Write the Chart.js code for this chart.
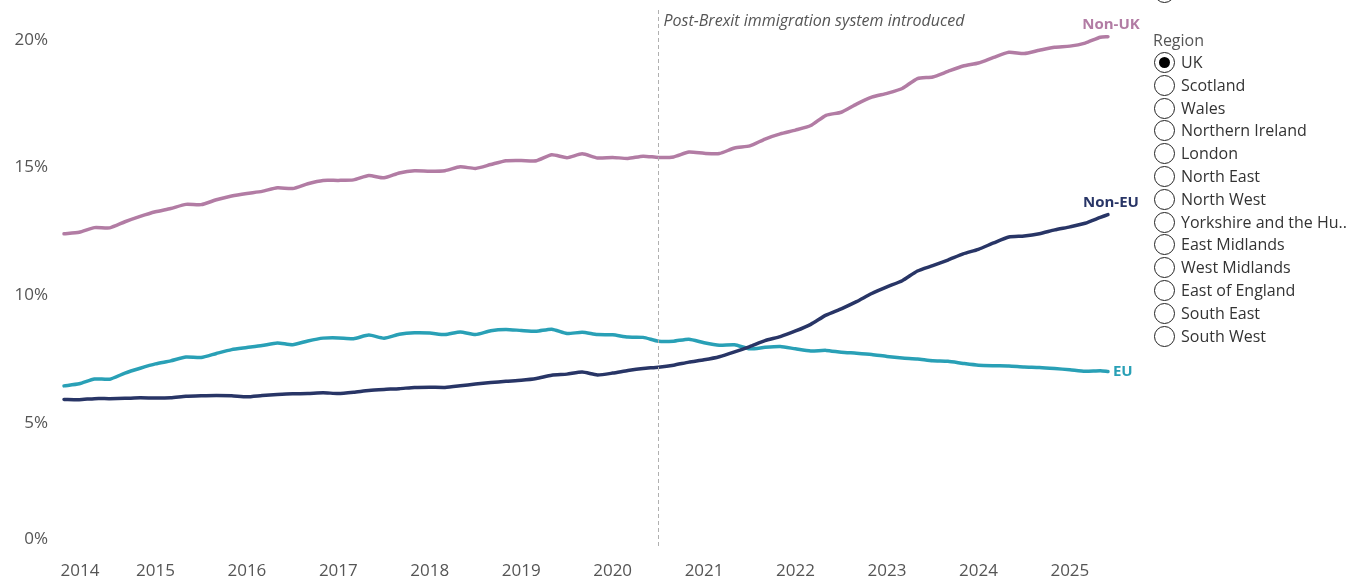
<!DOCTYPE html>
<html>
<head>
<meta charset="utf-8">
<script src="https://cdn.jsdelivr.net/npm/chart.js@4/dist/chart.umd.min.js"></script>
<style>
  body { margin: 0; background: #fff; font-family: "Open Sans", sans-serif; }
  #wrap { position: relative; width: 1349px; height: 579px; overflow: hidden; }
  #legend { position: absolute; left: 1153px; top: 0; color: #333; font-size: 16px; }
  #legend .title { position: absolute; left: 0; top: 29px; color: #555; white-space: nowrap; }
  .item { position: absolute; left: 1px; height: 23px; white-space: nowrap; }
  .radio { position: absolute; left: 0; top: 0; width: 21px; height: 21px; border: 1.5px solid #222; border-radius: 50%; background: #fff; box-sizing: border-box; }
  .radio.on::after { content: ""; position: absolute; left: 3.5px; top: 3.5px; width: 11px; height: 11px; border-radius: 50%; background: #000; }
  .item span { position: absolute; left: 27px; top: -1px; line-height: 22px; }
</style>
</head>
<body>
<div id="wrap">
  <canvas id="chart" width="1349" height="579"></canvas>
  <div id="legend"></div>
</div>
<script>
// month of each point (every two months, last point Dec 2025)
const months = [
  '2014-07', '2014-09', '2014-11',
  '2015-01', '2015-03', '2015-05', '2015-07', '2015-09', '2015-11',
  '2016-01', '2016-03', '2016-05', '2016-07', '2016-09', '2016-11',
  '2017-01', '2017-03', '2017-05', '2017-07', '2017-09', '2017-11',
  '2018-01', '2018-03', '2018-05', '2018-07', '2018-09', '2018-11',
  '2019-01', '2019-03', '2019-05', '2019-07', '2019-09', '2019-11',
  '2020-01', '2020-03', '2020-05', '2020-07', '2020-09', '2020-11',
  '2021-01', '2021-03', '2021-05', '2021-07', '2021-09', '2021-11',
  '2022-01', '2022-03', '2022-05', '2022-07', '2022-09', '2022-11',
  '2023-01', '2023-03', '2023-05', '2023-07', '2023-09', '2023-11',
  '2024-01', '2024-03', '2024-05', '2024-07', '2024-09', '2024-11',
  '2025-01', '2025-03', '2025-05', '2025-07', '2025-09', '2025-11', '2025-12'
];

const nonUK = [
  12.41, 12.47, 12.65, 12.64, 12.88, 13.09, 13.27, 13.40, 13.56, 13.55,
  13.74, 13.89, 13.99, 14.07, 14.21, 14.18, 14.37, 14.50, 14.50, 14.52,
  14.69, 14.60, 14.79, 14.88, 14.86, 14.88, 15.03, 14.97, 15.12, 15.27,
  15.28, 15.27, 15.50, 15.39, 15.54, 15.38, 15.40, 15.36, 15.45, 15.40,
  15.42, 15.61, 15.56, 15.55, 15.77, 15.85, 16.12, 16.32, 16.47, 16.65,
  17.05, 17.17, 17.49, 17.76, 17.91, 18.10, 18.49, 18.55, 18.77, 18.98,
  19.10, 19.32, 19.52, 19.47, 19.60, 19.72, 19.76, 19.88, 20.11, 20.13
];

const nonEU = [
  5.92, 5.91, 5.95, 5.95, 5.96, 5.98, 5.97, 5.98, 6.04, 6.06,
  6.07, 6.06, 6.02, 6.07, 6.11, 6.14, 6.15, 6.18, 6.15, 6.20,
  6.27, 6.31, 6.34, 6.39, 6.40, 6.39, 6.45, 6.52, 6.58, 6.63,
  6.67, 6.74, 6.87, 6.91, 6.99, 6.88, 6.95, 7.05, 7.13, 7.18,
  7.26, 7.38, 7.47, 7.59, 7.78, 7.99, 8.22, 8.38, 8.60, 8.86,
  9.22, 9.47, 9.75, 10.07, 10.33, 10.57, 10.95, 11.16, 11.38, 11.62,
  11.80, 12.05, 12.28, 12.32, 12.41, 12.56, 12.68, 12.82, 13.05, 13.16
];

const eu = [
  6.45, 6.53, 6.72, 6.71, 6.95, 7.14, 7.31, 7.43, 7.58, 7.56,
  7.72, 7.87, 7.95, 8.03, 8.13, 8.06, 8.21, 8.32, 8.33, 8.30,
  8.44, 8.32, 8.47, 8.53, 8.52, 8.46, 8.56, 8.46, 8.61, 8.66,
  8.62, 8.59, 8.67, 8.50, 8.55, 8.46, 8.45, 8.36, 8.35, 8.20,
  8.20, 8.28, 8.14, 8.04, 8.06, 7.90, 7.96, 7.99, 7.90, 7.82,
  7.84, 7.77, 7.73, 7.68, 7.60, 7.54, 7.50, 7.43, 7.41, 7.33,
  7.26, 7.24, 7.23, 7.19, 7.17, 7.13, 7.08, 7.02, 7.04, 7.01
];

const years = [2014, 2015, 2016, 2017, 2018, 2019, 2020, 2021, 2022, 2023, 2024, 2025];
const yTicks = [0, 5, 10, 15, 20];
const regions = ['UK', 'Scotland', 'Wales', 'Northern Ireland', 'London', 'North East', 'North West',
  'Yorkshire and the Hu..', 'East Midlands', 'West Midlands', 'East of England', 'South East', 'South West'];
const brexitDate = 2021.0;
const brexitNote = 'Post-Brexit immigration system introduced';

const FONT = '"Open Sans", sans-serif';

// '2016-03' -> 2016.1667
function toYear(m) {
  const p = m.split('-');
  return +p[0] + (+p[1] - 1) / 12;
}

function points(vals) {
  return vals.map((v, i) => ({ x: toYear(months[i]), y: v }));
}

const series = [
  { label: 'Non-UK', data: nonUK, color: '#b27ca4', place: 'above' },
  { label: 'Non-EU', data: nonEU, color: '#283566', place: 'above' },
  { label: 'EU', data: eu, color: '#29a0b6', place: 'right' }
];

// y labels (bottom one kept inside the plot like the original), dashed marker, note, end labels
const extras = {
  id: 'extras',
  beforeDatasetsDraw(chart) {
    const ctx = chart.ctx;
    const ys = chart.scales.y;
    ctx.save();
    ctx.font = '17px ' + FONT;
    ctx.fillStyle = '#555';
    ctx.textAlign = 'right';
    ctx.textBaseline = 'middle';
    yTicks.forEach(v => {
      const py = Math.min(ys.getPixelForValue(v), 539);
      ctx.fillText(v + '%', 48, py);
    });
    ctx.restore();
  },
  afterDatasetsDraw(chart) {
    const ctx = chart.ctx;
    const xs = chart.scales.x;
    const px = Math.round(xs.getPixelForValue(brexitDate)) + 0.5;
    ctx.save();
    ctx.strokeStyle = '#b0b0b0';
    ctx.lineWidth = 1;
    ctx.setLineDash([4, 3]);
    ctx.beginPath();
    ctx.moveTo(px, 10);
    ctx.lineTo(px, 548);
    ctx.stroke();
    ctx.setLineDash([]);
    ctx.font = 'italic 16px ' + FONT;
    ctx.fillStyle = '#555';
    ctx.textBaseline = 'middle';
    ctx.textAlign = 'left';
    ctx.fillText(brexitNote, px + 5, 21);

    ctx.font = 'bold 15px ' + FONT;
    series.forEach((s, i) => {
      const meta = chart.getDatasetMeta(i);
      const last = meta.data[meta.data.length - 1];
      ctx.fillStyle = s.color;
      if (s.place === 'above') {
        ctx.textAlign = 'center';
        ctx.fillText(s.label, last.x + 3, last.y - 12);
      } else {
        ctx.textAlign = 'left';
        ctx.fillText(s.label, last.x + 5, last.y);
      }
    });
    ctx.restore();
  }
};

new Chart(document.getElementById('chart'), {
  type: 'line',
  data: {
    datasets: series.map(s => ({
      label: s.label,
      data: points(s.data),
      borderColor: s.color,
      backgroundColor: s.color,
      borderWidth: 3.5,
      pointRadius: 0,
      tension: 0.2,
      clip: false,
      borderJoinStyle: 'round',
      borderCapStyle: 'round'
    }))
  },
  options: {
    responsive: false,
    animation: false,
    layout: { padding: { top: 40, right: 209, left: 0, bottom: 0 } },
    plugins: { legend: { display: false }, tooltip: { enabled: false } },
    scales: {
      x: {
        type: 'linear',
        min: 2014.4016,
        max: 2026.267,
        grid: { display: false, drawTicks: false },
        border: { display: false },
        afterBuildTicks: scale => {
          // labels sit mid-year; the first one is pushed in from the left edge
          scale.ticks = years.map(y => ({ value: y === 2014 ? 2014.675 : y + 0.5 }));
        },
        afterFit: scale => { scale.height = 28.5; },
        ticks: {
          autoSkip: false,
          maxRotation: 0,
          padding: 10,
          color: '#555',
          font: { family: FONT, size: 17 },
          callback: v => String(Math.floor(v))
        }
      },
      y: {
        min: 0,
        max: 20,
        grid: { display: false, drawTicks: false },
        border: { display: false },
        afterBuildTicks: scale => { scale.ticks = yTicks.map(v => ({ value: v })); },
        afterFit: scale => { scale.width = 55; },
        ticks: { display: false }
      }
    }
  },
  plugins: [extras]
});

// region picker on the right
const legend = document.getElementById('legend');
const top0 = document.createElement('div');
top0.className = 'item';
top0.style.top = '-18px';
top0.innerHTML = '<div class="radio"></div>';
legend.appendChild(top0);
const title = document.createElement('div');
title.className = 'title';
title.textContent = 'Region';
legend.appendChild(title);
regions.forEach((r, i) => {
  const it = document.createElement('div');
  it.className = 'item';
  it.style.top = (52 + i * 22.8) + 'px';
  it.innerHTML = '<div class="radio' + (i === 0 ? ' on' : '') + '"></div><span></span>';
  it.querySelector('span').textContent = r;
  legend.appendChild(it);
});
</script>
</body>
</html>
